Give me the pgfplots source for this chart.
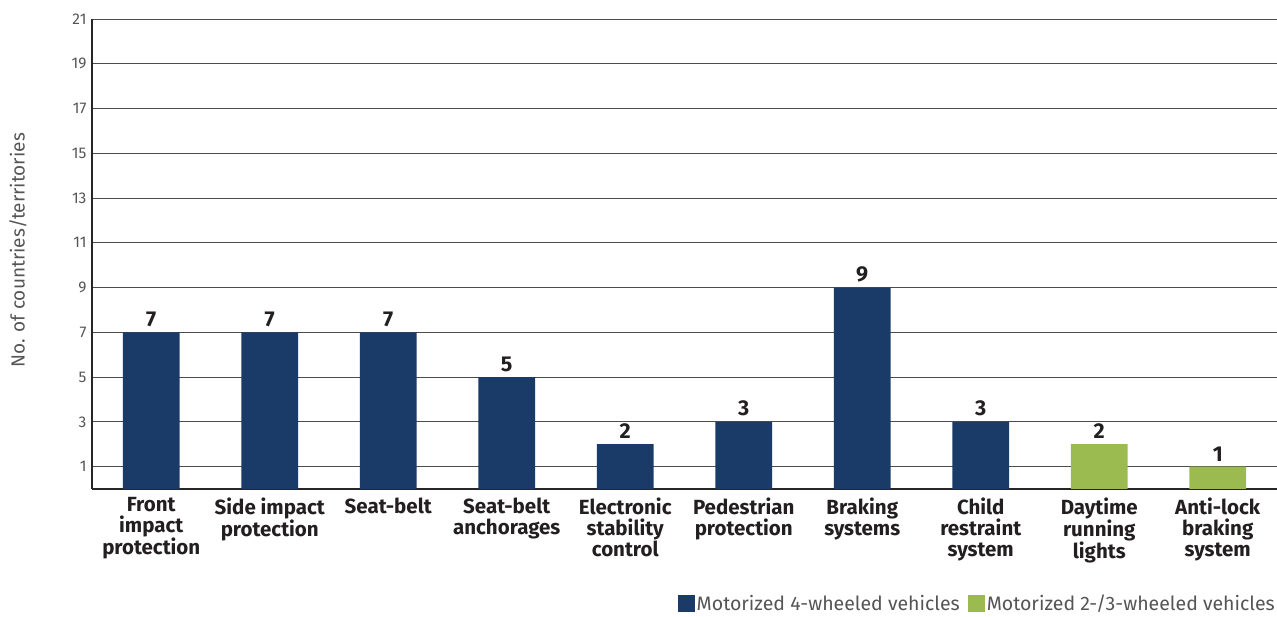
\documentclass[border=0pt]{standalone}
\usepackage{pgfplots}
\pgfplotsset{compat=1.18}
\usepackage{fontspec}
\setmainfont{Fira Sans}
\definecolor{navy}{HTML}{1A3A68}
\definecolor{lgreen}{HTML}{9BBB50}
\definecolor{txt}{HTML}{231F20}
\definecolor{tick}{HTML}{555555}
\begin{document}
\begin{tikzpicture}
\useasboundingbox (-92pt,-128pt) rectangle (1185pt,489pt);
\begin{axis}[
  at={(0pt,0pt)}, anchor=south west,
  scale only axis, width=1185pt, height=470pt,
  xmin=-0.5, xmax=9.5, ymin=0, ymax=21,
  ytick={1,3,...,21},
  xtick={0,...,9},
  xticklabels={Front\\impact\\protection, Side impact\\protection, Seat-belt, Seat-belt\\anchorages, Electronic\\stability\\control, Pedestrian\\protection, Braking\\systems, Child\\restraint\\system, Daytime\\running\\lights, Anti-lock\\braking\\system},
  xticklabel style={align=center, font=\bfseries\fontsize{20.5}{21}\selectfont, text=txt, yshift=-5pt},
  yticklabel style={font=\fontsize{15.5}{17}\selectfont, text=tick, xshift=-2pt},
  /pgf/number format/assume math mode=true,
  major tick length=0pt,
  axis lines*=left,
  axis line style={black!85, line width=1.2pt},
  ymajorgrids,
  grid style={black!70, line width=0.9pt},
  ybar, bar width=0.48, bar shift=0pt,
  ylabel={No. of countries/territories},
  ylabel style={at={(axis description cs:-0.0625,0.508)}, anchor=center, font=\fontsize{19}{21}\selectfont, text=tick},
  nodes near coords,
  nodes near coords style={font=\bfseries\fontsize{21.5}{23}\selectfont, text=txt, yshift=2pt},
  legend style={at={(axis description cs:1,-0.244)}, anchor=east, draw=none, legend columns=2, font=\fontsize{19.5}{21}\selectfont, text=tick, /tikz/every even column/.append style={column sep=6pt}, inner sep=0pt},
  legend image code/.code={\fill[#1] (0pt,-8.5pt) rectangle (17pt,8.5pt);},
]
\addplot[fill=navy, draw=none] coordinates {(0,7) (1,7) (2,7) (3,5) (4,2) (5,3) (6,9) (7,3)};
\addlegendentry{Motorized 4-wheeled vehicles}
\addplot[fill=lgreen, draw=none] coordinates {(8,2) (9,1)};
\addlegendentry{Motorized 2-/3-wheeled vehicles}
\end{axis}
\end{tikzpicture}
\end{document}
